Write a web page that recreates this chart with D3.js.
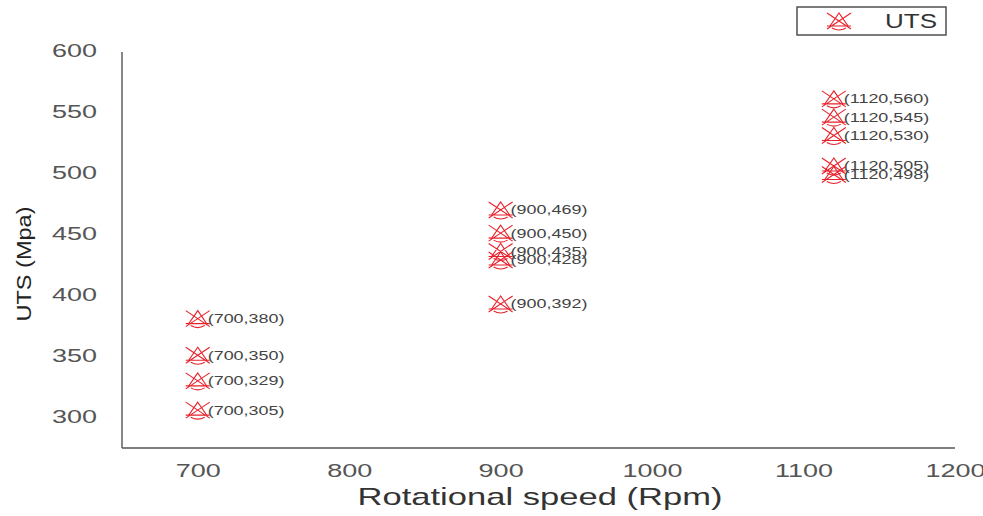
<!DOCTYPE html>
<html>
<head>
<meta charset="utf-8">
<script src="https://cdn.jsdelivr.net/npm/d3@7/dist/d3.min.js"></script>
<style>
  html, body { margin: 0; padding: 0; background: #fff; }
  svg { display: block; font-family: "Liberation Sans", Arial, sans-serif; }
</style>
</head>
<body>
<svg id="chart" width="983" height="516"></svg>
<script>
// Rotational speed (Rpm) for each sample
const speeds = [700, 700, 700, 700, 900, 900, 900, 900, 900, 1120, 1120, 1120, 1120, 1120];
// Ultimate tensile strength (MPa) for each sample
const uts = [380, 350, 329, 305, 469, 450, 435, 428, 392, 560, 545, 530, 505, 498];
const xTicks = [700, 800, 900, 1000, 1100, 1200];
const yTicks = [300, 350, 400, 450, 500, 550, 600];
const seriesName = "UTS";

const svg = d3.select("#chart");

const x = d3.scaleLinear().domain([650, 1200]).range([122, 955]);
const y = d3.scaleLinear().domain([274, 600]).range([448, 50]);

// Text in this figure is set wide; widen glyphs horizontally around the anchor point
function widen(sel, sx, px, py) {
  sel.attr("x", px / sx).attr("y", py).attr("transform", `scale(${sx},1)`);
}

// Axes: plain lines, no tick marks
const xAxis = d3.axisBottom(x).tickValues(xTicks).tickSize(0).tickFormat(d3.format("d"));
const yAxis = d3.axisLeft(y).tickValues(yTicks).tickSize(0).tickFormat(d3.format("d"));

const gx = svg.append("g").attr("transform", `translate(0,${y.range()[0]})`).call(xAxis);
const gy = svg.append("g").attr("transform", `translate(${x.range()[0]},0)`).call(yAxis);

gx.select(".domain").attr("stroke", "#555").attr("stroke-width", 1.4).attr("d", `M${x.range()[0]},0H${x.range()[1]}`);
gy.select(".domain").attr("stroke", "#555").attr("stroke-width", 1.4).attr("d", `M0,${y.range()[0]}V${y.range()[1] + 2}`);

[gx, gy].forEach(g => g.selectAll(".tick text")
  .attr("font-size", 18)
  .attr("fill", "#555")
  .attr("font-family", "Liberation Sans, Arial, sans-serif")
  .attr("dy", null));

gx.selectAll(".tick text").call(widen, 1.5, 0, 29);
gy.selectAll(".tick text").call(widen, 1.5, -25, 6.5);

// Axis titles
svg.append("text")
  .attr("text-anchor", "middle")
  .attr("font-size", 24)
  .attr("fill", "#333")
  .attr("transform", "translate(540,505) scale(1.44,1)")
  .text("Rotational speed (Rpm)");

svg.append("text")
  .attr("transform", "translate(31,264) rotate(-90) scale(1.12,1)")
  .attr("text-anchor", "middle")
  .attr("font-size", 21)
  .attr("fill", "#222")
  .text("UTS (Mpa)");

// Marker: crossed triangle with a base bar
const markerPath = "M-12,-8L12,8M-12,8L12,-8M0,-8L-9,5L9,5Z M-12,5L12,5 M-7,7Q0,11 7,7";

function drawMarker(g) {
  g.append("path")
    .attr("d", markerPath)
    .attr("fill", "none")
    .attr("stroke", "#e8202a")
    .attr("stroke-width", 1.1);
}

const points = speeds.map((s, i) => ({ s, v: uts[i] }));

const pts = svg.append("g").selectAll("g")
  .data(points)
  .join("g")
  .attr("transform", d => `translate(${x(d.s)},${y(d.v)})`);

pts.each(function() { drawMarker(d3.select(this)); });

pts.append("text")
  .attr("font-size", 13)
  .attr("fill", "#444")
  .text(d => `(${d.s},${d.v})`)
  .call(widen, 1.38, 10, 4.5);

// Legend
const legend = svg.append("g").attr("transform", "translate(797,7)");
legend.append("rect")
  .attr("width", 149).attr("height", 28)
  .attr("fill", "#fff")
  .attr("stroke", "#444")
  .attr("stroke-width", 1.4);
const lm = legend.append("g").attr("transform", "translate(42,14)");
drawMarker(lm);
legend.append("text")
  .attr("font-size", 20)
  .attr("fill", "#333")
  .text(seriesName)
  .call(widen, 1.3, 88, 21);
</script>
</body>
</html>
